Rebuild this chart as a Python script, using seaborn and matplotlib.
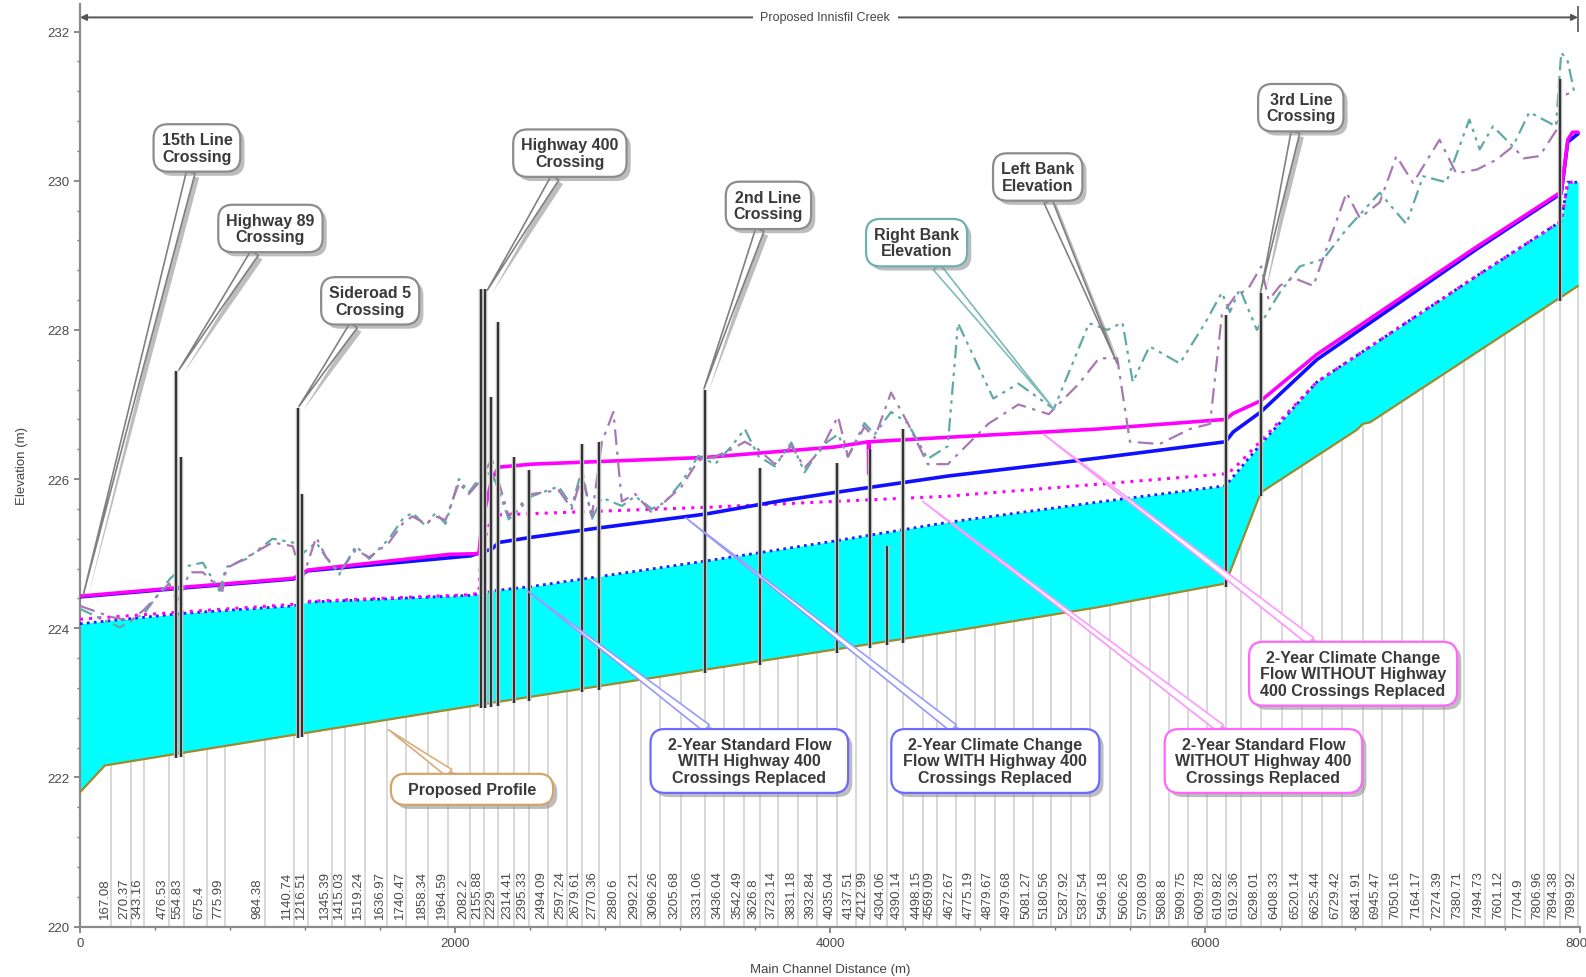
import numpy as np
import matplotlib
matplotlib.use("Agg")
import matplotlib.pyplot as plt
import matplotlib.patheffects as pe
from matplotlib.ticker import MultipleLocator
import seaborn as sns

# ---------------- data ----------------
station_labels = ["167.08", "270.37", "343.16", "476.53", "554.83", "675.4", "775.99", "984.38",
                  "1140.74", "1216.51", "1345.39", "1415.03", "1519.24", "1636.97", "1740.47",
                  "1858.34", "1964.59", "2082.2", "2155.88", "2229", "2314.41", "2395.33",
                  "2494.09", "2597.24", "2679.61", "2770.36", "2880.6", "2992.21", "3096.26",
                  "3205.68", "3331.06", "3436.04", "3542.49", "3626.8", "3723.14", "3831.18",
                  "3932.84", "4035.04", "4137.51", "4212.99", "4304.06", "4390.14", "4498.15",
                  "4569.09", "4672.67", "4775.19", "4879.67", "4979.68", "5081.27", "5180.56",
                  "5287.92", "5387.54", "5496.18", "5606.26", "5708.09", "5808.8", "5909.75",
                  "6009.78", "6109.82", "6192.36", "6298.01", "6408.33", "6520.14", "6625.44",
                  "6729.42", "6841.91", "6945.47", "7050.16", "7164.17", "7274.39", "7380.71",
                  "7494.73", "7601.12", "7704.9", "7806.96", "7894.38", "7989.92"]

profile_x = [0, 133, 2197, 4628, 5426, 6109.82, 6298.01, 6810, 6841.91, 6880, 7989.92]
profile_y = [221.80, 222.16, 223.00, 223.95, 224.28, 224.60, 225.82, 226.66, 226.74, 226.76, 228.59]

# 2-Year Standard Flow WITH Highway 400 crossings replaced (blue dotted, top of cyan)
std_with_x = [0, 554, 1140, 1216, 2082, 2155, 2197, 2410, 3335, 4026, 4628, 5426, 6109.82,
              6150, 6298.01, 6596, 7447, 7900, 7935, 7989.92]
std_with_y = [224.06, 224.20, 224.30, 224.35, 224.44, 224.47, 224.50, 224.56, 224.90, 225.17,
              225.42, 225.69, 225.91, 226.03, 226.47, 227.30, 228.72, 229.46, 229.98, 229.98]

# 2-Year Standard Flow WITHOUT Highway 400 crossings replaced (magenta dotted)
std_without_x = [0, 554, 1140, 1216, 2082, 2128, 2140, 2197, 2229, 3331, 4628, 5426, 6109.82,
                 6150, 6298.01, 6596, 7447, 7900, 7935, 7989.92]
std_without_y = [224.12, 224.22, 224.32, 224.36, 224.45, 224.47, 225.05, 225.50, 225.52, 225.62,
                 225.77, 225.93, 226.07, 226.13, 226.51, 227.30, 228.72, 229.46, 229.98, 229.98]

# 2-Year Climate Change Flow WITH Highway 400 crossings replaced (blue solid)
cc_with_x = [0, 554, 1140, 1216, 2082, 2155, 2197, 2234, 2410, 2784, 3335, 3741, 4026, 4628,
             5426, 6109.82, 6150, 6298.01, 6596, 7447, 7900, 7935, 7989.92]
cc_with_y = [224.42, 224.54, 224.66, 224.77, 224.97, 225.03, 225.06, 225.15, 225.22, 225.35,
             225.53, 225.71, 225.82, 226.04, 226.28, 226.50, 226.63, 226.90, 227.60, 229.08,
             229.83, 230.52, 230.63]

# 2-Year Climate Change Flow WITHOUT Highway 400 crossings replaced (magenta solid)
cc_without_x = [0, 554, 1140, 1216, 1968, 2128, 2144, 2197, 2234, 2410, 3335, 4026, 4205,
                4207, 4209, 4628, 5426, 6109.82, 6150, 6298.01, 6596, 7447, 7900, 7935, 7960,
                7989.92]
cc_without_y = [224.43, 224.55, 224.67, 224.78, 224.99, 225.00, 225.42, 226.00, 226.16, 226.20,
                226.29, 226.43, 226.50, 226.07, 226.50, 226.56, 226.67, 226.80, 226.88, 227.05,
                227.67, 229.11, 229.85, 230.55, 230.65, 230.65]

right_bank_x = [0, 213, 343, 479, 548, 655, 745, 780, 888, 1027, 1135, 1186, 1260, 1313, 1383,
                1472, 1543, 1649, 1720, 1773, 1844, 1897, 1950, 2021, 2074, 2127, 2197, 2287,
                2410, 2553, 2624, 2677, 2730, 2784, 2890, 2961, 3050, 3121, 3209, 3298, 3387,
                3475, 3546, 3617, 3706, 3794, 3865, 3954, 4043, 4096, 4184, 4238, 4326, 4415,
                4521, 4628, 4683, 4871, 5005, 5194, 5382, 5480, 5560, 5615, 5704, 5866, 6000,
                6090, 6133, 6186, 6277, 6399, 6505, 6631, 6755, 6932, 7074, 7163, 7287, 7410,
                7465, 7536, 7642, 7730, 7872, 7900, 7935, 7970]
right_bank_y = [224.26, 224.01, 224.20, 224.66, 224.82, 224.88, 224.50, 224.82, 224.93, 225.20,
                225.15, 225.00, 225.15, 224.95, 224.72, 225.10, 224.93, 225.20, 225.46, 225.55,
                225.37, 225.55, 225.40, 226.00, 225.82, 226.00, 226.10, 225.46, 225.77, 225.90,
                225.64, 226.13, 225.46, 225.75, 225.64, 225.77, 225.60, 225.69, 225.96, 226.31,
                226.20, 226.44, 226.67, 226.31, 226.17, 226.49, 226.09, 226.44, 226.60, 226.30,
                226.75, 226.60, 226.90, 226.75, 226.27, 226.44, 228.09, 227.08, 227.28, 226.94,
                228.09, 228.00, 228.10, 227.30, 227.78, 227.55, 228.09, 228.50, 228.24, 228.55,
                228.00, 228.50, 228.85, 228.95, 229.35, 229.84, 229.42, 230.06, 229.98, 230.82,
                230.42, 230.73, 230.46, 230.92, 230.73, 231.72, 231.60, 231.18]

left_bank_x = [0, 167, 270, 343, 476, 521, 585, 655, 760, 780, 888, 1027, 1135, 1186, 1260,
               1313, 1383, 1472, 1543, 1649, 1720, 1773, 1844, 1897, 1950, 2021, 2074, 2127,
               2197, 2287, 2410, 2553, 2624, 2677, 2730, 2784, 2845, 2890, 2961, 3050, 3121,
               3209, 3298, 3387, 3475, 3546, 3617, 3706, 3794, 3865, 3954, 4043, 4096, 4184,
               4238, 4326, 4415, 4521, 4629, 4844, 5005, 5167, 5328, 5435, 5532, 5600, 5758,
               5919, 6027, 6090, 6160, 6230, 6300, 6340, 6399, 6470, 6578, 6755, 6826, 6932,
               7021, 7110, 7251, 7340, 7450, 7553, 7642, 7700, 7784, 7880, 7900, 7970]
left_bank_y = [224.30, 224.15, 224.10, 224.25, 224.60, 224.35, 224.75, 224.75, 224.50, 224.80,
               224.95, 225.15, 225.10, 224.66, 225.22, 224.95, 224.75, 225.05, 224.95, 225.15,
               225.40, 225.50, 225.40, 225.50, 225.45, 225.95, 225.80, 225.95, 226.27, 225.50,
               225.80, 225.85, 225.60, 226.05, 225.50, 226.50, 226.90, 225.70, 225.80, 225.55,
               225.70, 225.90, 226.25, 226.30, 226.40, 226.50, 226.40, 226.20, 226.45, 226.15,
               226.40, 226.84, 226.30, 226.70, 226.55, 227.16, 226.75, 226.20, 226.20, 226.74,
               227.00, 226.87, 227.28, 227.62, 227.62, 226.50, 226.47, 226.67, 226.74, 228.20,
               228.45, 228.55, 228.85, 228.40, 228.59, 228.70, 228.59, 229.84, 229.50, 229.71,
               230.33, 229.97, 230.55, 230.10, 230.15, 230.28, 230.46, 230.30, 230.33, 230.70,
               231.13, 231.20]

structure_x = [515, 540, 1165, 1182, 2140, 2160, 2190, 2229, 2314.41, 2395.33, 2679.61, 2770.36,
               3331.06, 3626.8, 4035.04, 4212.99, 4304.06, 4390.14, 6109.82, 6298.01, 7894.38]
structure_top = [227.45, 226.30, 226.95, 225.80, 228.55, 228.55, 227.10, 228.10, 226.30, 226.12,
                 226.47, 226.50, 227.20, 226.15, 226.22, 226.40, 225.10, 226.67, 228.20, 228.50,
                 231.36]

callout_text = ["15th Line\nCrossing", "Highway 89\nCrossing", "Sideroad 5\nCrossing",
                "Highway 400\nCrossing", "2nd Line\nCrossing", "Right Bank\nElevation",
                "Left Bank\nElevation", "3rd Line\nCrossing", "  Proposed Profile  ",
                "  2-Year Standard Flow  \nWITH Highway 400\nCrossings Replaced",
                "  2-Year Climate Change  \nFlow WITH Highway 400\nCrossings Replaced",
                "  2-Year Standard Flow  \nWITHOUT Highway 400\nCrossings Replaced",
                "  2-Year Climate Change  \nFlow WITHOUT Highway\n400 Crossings Replaced"]
callout_tip_x = [16, 527, 1167, 2172, 3328, 5194, 5532, 6296, 1645, 2387, 3231, 4495, 5140]
callout_tip_y = [224.43, 227.46, 226.97, 228.53, 227.21, 226.94, 227.55, 228.50, 222.64, 224.50,
                 225.48, 225.70, 226.60]
callout_box_x = [624, 1016, 1548, 2613, 3672, 4462, 5108, 6511, 2091, 3570, 4882, 6312, 6790]
callout_box_y = [230.44, 229.36, 228.39, 230.37, 229.67, 229.17, 230.05, 230.98, 221.84, 222.22,
                 222.22, 222.22, 223.39]
callout_kind = ["gray", "gray", "gray", "gray", "gray", "teal", "gray", "gray", "tan",
                "blue", "blue", "magenta", "magenta"]

# ---------------- style ----------------
sns.set_theme(style="white")
plt.rcParams["font.family"] = ["Liberation Sans", "DejaVu Sans"]

fig = plt.figure(figsize=(15.86, 9.78), dpi=100)
ax = fig.add_axes([0.0504, 0.0516, 0.9458, 0.9433])
ax.set_xlim(0, 8000)
ax.set_ylim(220, 232.37)

stations = np.array([float(s) for s in station_labels])
bed_at_st = np.interp(stations, profile_x, profile_y)

# station grid lines (below the bed)
ax.vlines(stations, 220, bed_at_st, color="#d6d6d6", lw=1.3, zorder=1)
for s, lab in zip(stations, station_labels):
    ax.text(s - 4, 220.12, lab, rotation=90, ha="right", va="bottom", fontsize=9.5,
            color="#4a4a4a", zorder=2)

# water fill
fx = np.union1d(profile_x, std_with_x)
fx = fx[fx <= 7989.92]
ax.fill_between(fx, np.interp(fx, profile_x, profile_y), np.interp(fx, std_with_x, std_with_y),
                color="#00ffff", lw=0, zorder=2)

# profile
sns.lineplot(x=profile_x, y=profile_y, sort=False, estimator=None, color="#a08a2c", lw=1.6,
             ax=ax, zorder=4)

# water surfaces
sns.lineplot(x=std_with_x, y=std_with_y, sort=False, estimator=None, color="#2020ff", lw=2.0,
             linestyle=(0, (1, 1.5)), ax=ax, zorder=5)
sns.lineplot(x=std_without_x, y=std_without_y, sort=False, estimator=None, color="#ff00ff",
             lw=2.2, linestyle=(0, (1, 2)), ax=ax, zorder=5)
sns.lineplot(x=cc_with_x, y=cc_with_y, sort=False, estimator=None, color="#1010ff", lw=2.6,
             ax=ax, zorder=6)
sns.lineplot(x=cc_without_x, y=cc_without_y, sort=False, estimator=None, color="#ff00ff", lw=2.6,
             ax=ax, zorder=7)

# banks
sns.lineplot(x=right_bank_x, y=right_bank_y, sort=False, estimator=None, color="#5fa9a6", lw=1.6,
             linestyle=(0, (6, 2.5, 1.5, 2.5, 1.5, 2.5)), ax=ax, zorder=8)
sns.lineplot(x=left_bank_x, y=left_bank_y, sort=False, estimator=None, color="#a878b4", lw=1.6,
             linestyle=(0, (7, 3, 1.5, 3)), ax=ax, zorder=8)

# structures
s_bot = np.interp(structure_x, profile_x, profile_y) - 0.05
ax.vlines(structure_x, s_bot, structure_top, color="#bdbdbd", lw=3.2, zorder=9)
ax.vlines(structure_x, s_bot, structure_top, color="#262626", lw=1.3, zorder=10)

# reach arrow
yr = 232.19
ax.annotate("", xy=(0, yr), xytext=(7989.92, yr),
            arrowprops=dict(arrowstyle="<|-|>", color="#555555", lw=1.4, mutation_scale=9,
                            shrinkA=0, shrinkB=0), zorder=12)
ax.vlines([7989.92], yr - 0.2, yr + 0.15, color="#555555", lw=1.2, zorder=12)
ax.text(3975, yr, "Proposed Innisfil Creek", ha="center", va="center", fontsize=9,
        color="#444444", zorder=13,
        bbox=dict(boxstyle="square,pad=0.6", fc="white", ec="none"))

# callouts
kinds = {
    "gray": ("#8c8c8c", "#808080"),
    "teal": ("#6fb0b0", "#7fbcbc"),
    "tan": ("#d4a56a", "#d9b07a"),
    "blue": ("#6b6bff", "#9a9aff"),
    "magenta": ("#ff66ff", "#ff99ff"),
}
shadow = [pe.SimplePatchShadow(offset=(3, -3), shadow_rgbFace="#888888", alpha=0.55), pe.Normal()]
for txt, tx, ty, bx, by, kd in zip(callout_text, callout_tip_x, callout_tip_y, callout_box_x,
                                   callout_box_y, callout_kind):
    ec, lc = kinds[kd]
    ann = ax.annotate(txt, xy=(tx, ty), xytext=(bx, by), ha="center", va="center",
                      multialignment="center",
                      fontsize=11.5, fontweight="bold", color="#3a3a3a", linespacing=1.12,
                      bbox=dict(boxstyle="round,pad=0.5,rounding_size=0.9", fc="white", ec=ec,
                                lw=1.6),
                      arrowprops=dict(arrowstyle="wedge,tail_width=0.55,shrink_factor=0.45",
                                      fc="white", ec=lc, lw=1.2, shrinkA=0, shrinkB=0),
                      zorder=15)
    ann.get_bbox_patch().set_path_effects(shadow)
    ann.arrow_patch.set_path_effects(shadow)

# axes styling
for sp in ["top", "right"]:
    ax.spines[sp].set_visible(False)
for sp in ["left", "bottom"]:
    ax.spines[sp].set_color("#8a8a8a")
    ax.spines[sp].set_linewidth(1.6)
ax.set_xticks([0, 2000, 4000, 6000, 8000])
ax.set_yticks([220, 222, 224, 226, 228, 230, 232])
ax.xaxis.set_minor_locator(MultipleLocator(400))
ax.yaxis.set_minor_locator(MultipleLocator(0.4))
ax.tick_params(axis="both", which="major", direction="out", length=4, width=1.2,
               color="#777777", labelsize=9.5, labelcolor="#4a4a4a", bottom=True, left=True)
ax.tick_params(axis="both", which="minor", direction="out", length=2.5, width=1.0,
               color="#777777", bottom=True, left=True)
ax.set_xlabel("Main Channel Distance (m)", fontsize=9.5, color="#444444", labelpad=10)
ax.set_ylabel("Elevation (m)", fontsize=9.5, color="#444444", labelpad=14)
ax.grid(False)

fig.savefig("out.png", dpi=100)
